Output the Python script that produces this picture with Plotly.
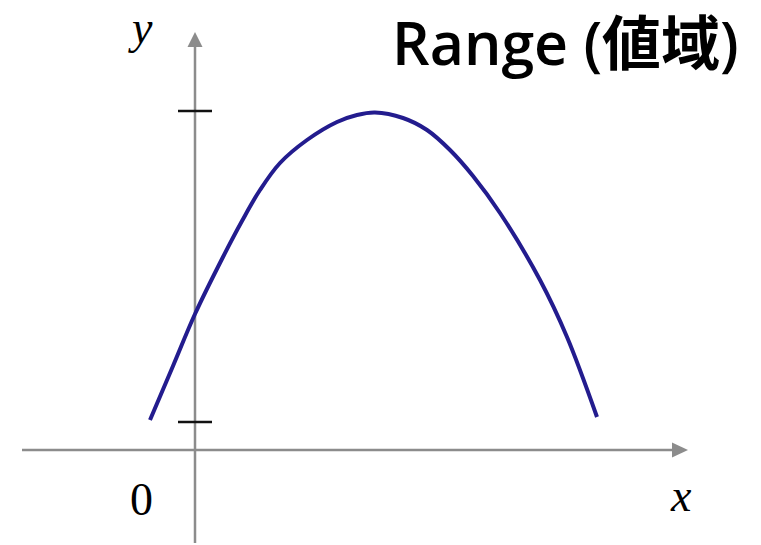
import plotly.graph_objects as go

# Curve samples (data units)
curve_x = [-0.45, -0.22, 0.00, 0.28, 0.47, 0.65, 0.85, 1.12, 1.42, 1.62, 1.80, 2.08, 2.32, 2.55, 2.78, 3.05, 3.45, 3.72, 4.02]
curve_y = [0.30, 0.84, 1.36, 1.93, 2.29, 2.60, 2.87, 3.10, 3.28, 3.35, 3.375, 3.32, 3.20, 3.00, 2.74, 2.37, 1.70, 1.13, 0.33]

# Range bounds marked on the y-axis
range_ticks = [3.39, 0.28]

title_text = "Range (値域)"

W, H = 761, 545
X_RANGE = [-1.95, 5.66]
Y_RANGE = [-0.95, 4.50]
AXIS_COLOR = "#8c8c8c"

fig = go.Figure()
fig.add_trace(go.Scatter(x=curve_x, y=curve_y, mode="lines",
                         line=dict(color="#231c8e", width=4, shape="spline", smoothing=1.0),
                         hoverinfo="skip", showlegend=False))

shapes = []
shapes.append(dict(type="line", x0=-1.73, x1=4.80, y0=0, y1=0, line=dict(color=AXIS_COLOR, width=2.5), layer="below"))
shapes.append(dict(type="line", x0=0, x1=0, y0=-0.93, y1=4.05, line=dict(color=AXIS_COLOR, width=2.5), layer="below"))
shapes.append(dict(type="path", path="M 4.77 -0.075 L 4.93 0 L 4.77 0.075 Z", fillcolor=AXIS_COLOR, line=dict(width=0)))
shapes.append(dict(type="path", path="M -0.075 4.03 L 0 4.18 L 0.075 4.03 Z", fillcolor=AXIS_COLOR, line=dict(width=0)))
for t in range_ticks:
    shapes.append(dict(type="line", x0=-0.17, x1=0.17, y0=t, y1=t, line=dict(color="#111111", width=2.5)))

fig.update_layout(
    shapes=shapes,
    width=W, height=H,
    margin=dict(l=0, r=0, t=0, b=0),
    paper_bgcolor="white", plot_bgcolor="white",
    xaxis=dict(range=X_RANGE, visible=False, fixedrange=True),
    yaxis=dict(range=Y_RANGE, visible=False, fixedrange=True),
    showlegend=False,
)

serif = dict(family="Liberation Serif", size=46, color="black")
fig.add_annotation(x=-0.55, y=Y_RANGE[1], yanchor="top", text="<i>y</i>", showarrow=False, font=serif)
fig.add_annotation(x=4.86, y=-0.45, text="<i>x</i>", showarrow=False, font=serif)
fig.add_annotation(x=-0.54, y=-0.49, text="0", showarrow=False, font=serif)
fig.add_annotation(xref="paper", yref="paper", x=741 / W, y=1.0,
                   xanchor="right", yanchor="top", text=title_text, showarrow=False,
                   font=dict(family="Open Sans, Noto Sans CJK JP", size=59, color="black", weight=600))

fig.write_html("out.html", config={"displayModeBar": False},
               post_script="document.body.style.margin='0';document.body.style.padding='0';")
